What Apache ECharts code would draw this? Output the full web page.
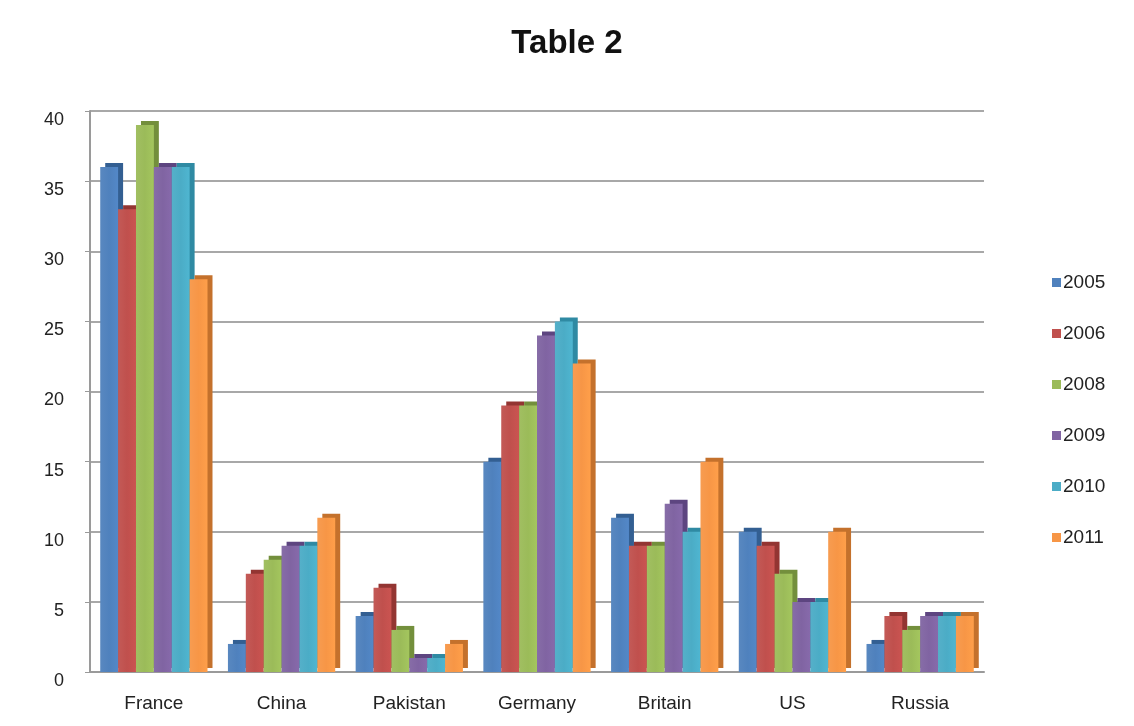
<!DOCTYPE html>
<html>
<head>
<meta charset="utf-8">
<title>Table 2</title>
<script src="https://cdn.jsdelivr.net/npm/echarts@6/dist/echarts.min.js"></script>
<style>
  html, body { margin: 0; padding: 0; background: #fff; }
  #chart { width: 1134px; height: 726px; }
</style>
</head>
<body>
<div id="chart"></div>
<script>
// Categories and yearly values
const countries = ['France', 'China', 'Pakistan', 'Germany', 'Britain', 'US', 'Russia'];
const years = ['2005', '2006', '2008', '2009', '2010', '2011'];
const v2005 = [36, 2, 4, 15, 11, 10, 2];
const v2006 = [33, 7, 6, 19, 9, 9, 4];
const v2008 = [39, 8, 3, 19, 9, 7, 3];
const v2009 = [36, 9, 1, 24, 12, 5, 4];
const v2010 = [36, 9, 1, 25, 10, 5, 4];
const v2011 = [28, 11, 2, 22, 15, 10, 4];
const yTicks = [0, 5, 10, 15, 20, 25, 30, 35, 40];

const seriesValues = [v2005, v2006, v2008, v2009, v2010, v2011];
const palette = ['#4f81bd', '#c0504d', '#9bbb59', '#8064a2', '#4bacc6', '#f79646'];
const sideShade = ['#335f92', '#933532', '#738f3c', '#5d4580', '#2f8aa3', '#c4712c'];

// Soft horizontal shading on each bar face
function barFill(c) {
  return new echarts.graphic.LinearGradient(0, 0, 1, 0, [
    { offset: 0, color: echarts.color.lift(c, 0.06) },
    { offset: 0.5, color: c },
    { offset: 1, color: echarts.color.lift(c, -0.06) }
  ]);
}

const font = 'Liberation Sans, Arial, sans-serif';
const chart = echarts.init(document.getElementById('chart'));

chart.setOption({
  animation: false,
  title: {
    text: 'Table 2',
    left: 'center',
    top: 22,
    textStyle: { fontFamily: font, fontWeight: 'bold', fontSize: 33, color: '#111' }
  },
  legend: {
    orient: 'vertical',
    left: 1047,
    top: 268,
    itemWidth: 9,
    itemHeight: 9,
    itemGap: 32,
    icon: 'rect',
    data: years.map((y, i) => ({ name: y, itemStyle: { color: palette[i], shadowBlur: 0, shadowOffsetX: 0, shadowOffsetY: 0 } })),
    textStyle: { fontFamily: font, fontSize: 19, color: '#222', padding: [0, 0, 0, -3] }
  },
  grid: { left: 90, right: 150, top: 111, bottom: 54 },
  xAxis: {
    type: 'category',
    data: countries,
    axisLine: { lineStyle: { color: '#9a9a9a', width: 2 } },
    axisTick: { show: false },
    axisLabel: { fontFamily: font, fontSize: 19, color: '#222', margin: 22 }
  },
  yAxis: {
    type: 'value',
    min: yTicks[0],
    max: yTicks[yTicks.length - 1],
    interval: 5,
    axisLine: { show: true, lineStyle: { color: '#9a9a9a', width: 2 } },
    axisTick: { show: true, length: 5, lineStyle: { color: '#9a9a9a' } },
    splitLine: { lineStyle: { color: '#a8a8a8', width: 2 } },
    axisLabel: {
      fontFamily: font, fontSize: 18, color: '#222',
      margin: 26, verticalAlign: 'top'
    }
  },
  series: years.map((y, i) => ({
    name: y,
    type: 'bar',
    data: seriesValues[i],
    color: palette[i],
    barGap: '0%',
    barCategoryGap: '16%',
    itemStyle: {
      color: barFill(palette[i]),
      shadowColor: sideShade[i],
      shadowBlur: 0,
      shadowOffsetX: 5,
      shadowOffsetY: -4
    },
    emphasis: { disabled: true }
  }))
});
</script>
</body>
</html>
